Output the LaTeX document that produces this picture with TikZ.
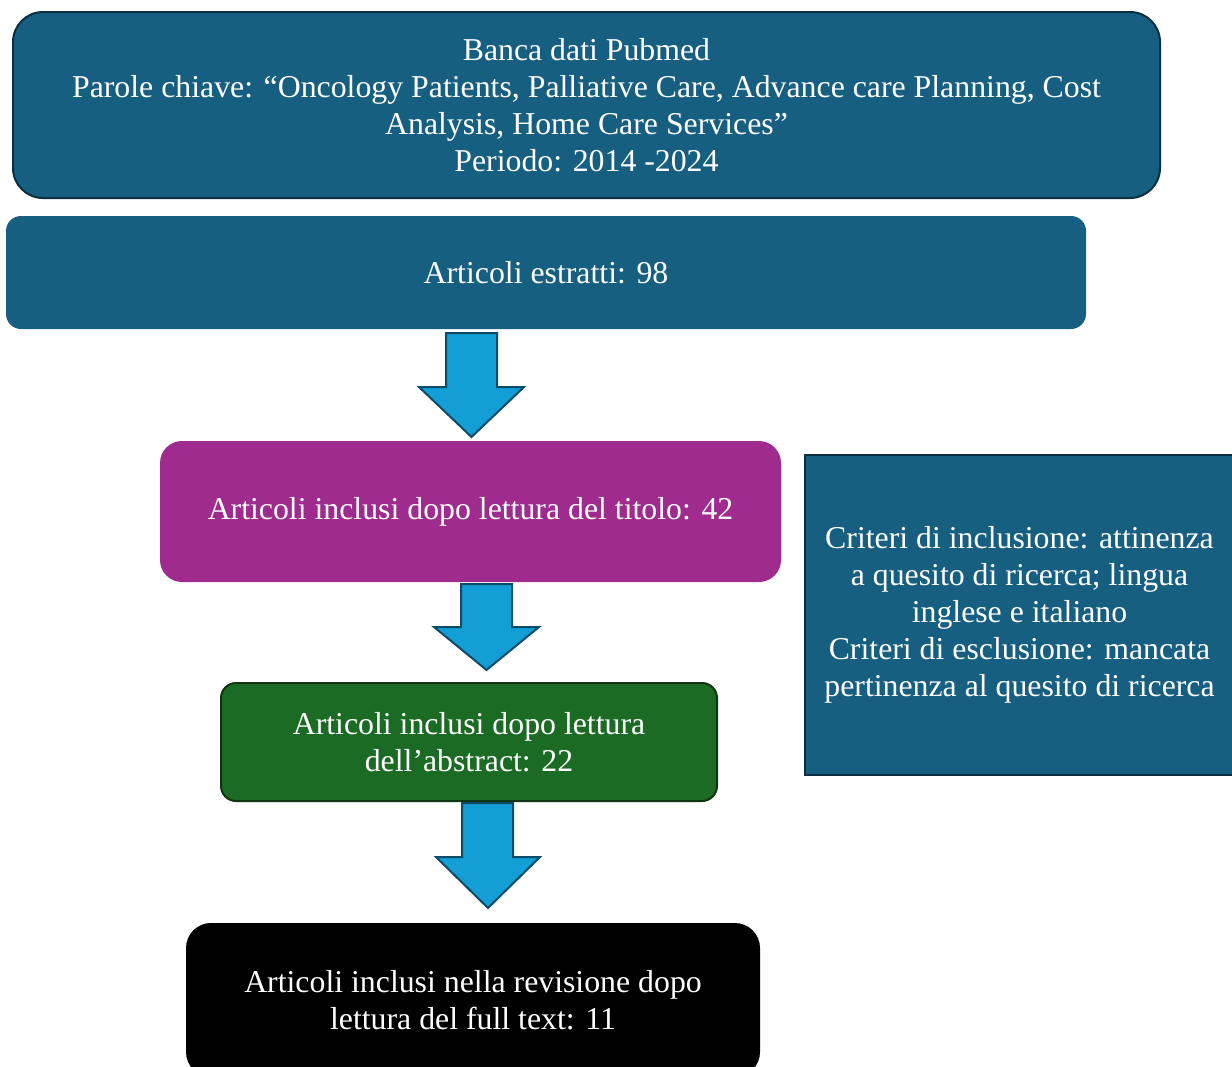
\documentclass[tikz,border=0pt]{standalone}
\usepackage{fontspec}
\setmainfont{Liberation Serif}
\definecolor{dbblue}{HTML}{175F80}
\definecolor{dbdark}{HTML}{0B2F40}
\definecolor{dbpurple}{HTML}{9F2B8F}
\definecolor{dbgreen}{HTML}{1C6B24}
\definecolor{dbgreenline}{HTML}{0F3512}
\definecolor{arrfill}{HTML}{139ED6}
\definecolor{arrline}{HTML}{0E4B66}
\begin{document}
\begin{tikzpicture}[x=1pt,y=-1pt,
  box/.style={text=white, align=center, font=\fontsize{31.8}{37}\selectfont, inner sep=0pt},
  blockarrow/.style={fill=arrfill, draw=arrline, line width=2pt, line join=miter}]
\clip (0,0) rectangle (1232,1066);
\fill[white] (0,0) rectangle (1232,1066);
\node[box, fill=dbblue, draw=dbdark, line width=2pt, rounded corners=30pt,
  minimum width=1147pt, minimum height=186pt] (src) at (586.5,105)
  {Banca dati Pubmed\\Parole chiave: “Oncology Patients, Palliative Care, Advance care Planning, Cost\\Analysis, Home Care Services”\\Periodo: 2014 -2024};
\node[box, fill=dbblue, rounded corners=15pt, minimum width=1080pt, minimum height=113pt]
  (estr) at (546,272.5) {Articoli estratti: 98};
\draw[blockarrow] (446,333)--(497,333)--(497,387)--(524,387)--(471.5,437)--(419,387)--(446,387)--cycle;
\node[box, fill=dbpurple, rounded corners=22pt, minimum width=621pt, minimum height=141pt]
  (tit) at (470.5,511.5) {Articoli inclusi dopo lettura del titolo: 42};
\node[box, fill=dbblue, draw=dbdark, line width=2pt, minimum width=429pt, minimum height=320pt]
  (crit) at (1019.5,615) {Criteri di inclusione: attinenza\\a quesito di ricerca; lingua\\inglese e italiano\\Criteri di esclusione: mancata\\pertinenza al quesito di ricerca};
\draw[blockarrow] (461,584)--(512,584)--(512,627)--(539,627)--(486.5,670)--(434,627)--(461,627)--cycle;
\node[box, fill=dbgreen, draw=dbgreenline, line width=2pt, rounded corners=15pt, minimum width=496pt, minimum height=118pt]
  (abs) at (469,742) {Articoli inclusi dopo lettura\\dell’abstract: 22};
\draw[blockarrow] (462,803)--(513,803)--(513,857)--(540,857)--(488,908)--(436,857)--(462,857)--cycle;
\node[box, fill=black, rounded corners=25pt, minimum width=574pt, minimum height=154pt]
  (full) at (473,1000) {Articoli inclusi nella revisione dopo\\lettura del full text: 11};
\end{tikzpicture}
\end{document}
